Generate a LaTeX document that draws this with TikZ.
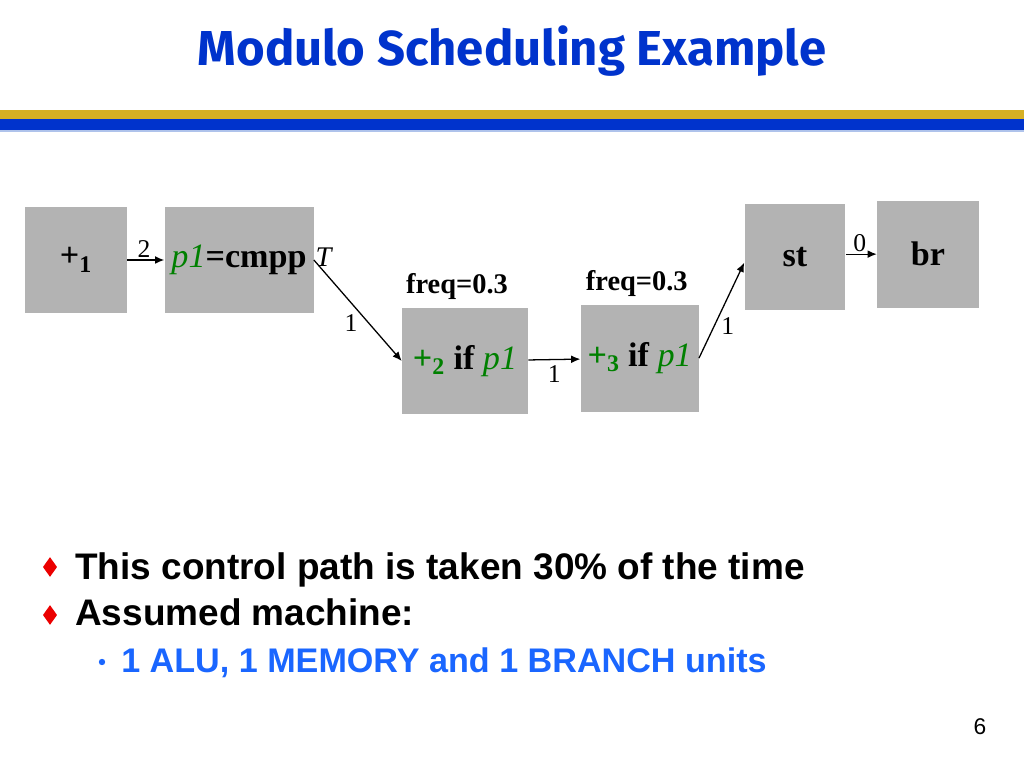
\documentclass[tikz,border=0pt]{standalone}
\usepackage{fontspec}
\setmainfont{Liberation Serif}
\setsansfont{Liberation Sans}
\newfontfamily\titlefont{Fira Sans}
\usepackage{xcolor}
\usepackage{tikz}
\usetikzlibrary{arrows.meta,positioning,shapes.geometric}
\definecolor{titleblue}{RGB}{0,51,204}
\definecolor{bandgold}{RGB}{214,176,36}
\definecolor{bandblue}{RGB}{0,51,204}
\definecolor{bandlight}{RGB}{175,195,235}
\definecolor{opgray}{RGB}{179,179,179}
\definecolor{predgreen}{RGB}{0,128,0}
\definecolor{bulletred}{RGB}{235,0,0}
\definecolor{subblue}{RGB}{26,102,255}
\tikzset{
  opbox/.style={rectangle, fill=opgray, inner sep=0pt, minimum height=75.2pt,
                font=\fontsize{24}{28}\selectfont\bfseries},
  arr/.style={-{Latex[length=6.5pt,width=5.5pt]}, line width=0.9pt, black},
  elbl/.style={font=\fontsize{18}{20}\selectfont, inner sep=1pt},
  freqlbl/.style={font=\fontsize{20}{22}\selectfont\bfseries, inner sep=1pt},
  reddiamond/.style={diamond, fill=bulletred, inner sep=0pt,
                     minimum width=10pt, minimum height=14pt},
  bulletmain/.style={anchor=base west, inner sep=0pt,
                     font=\sffamily\bfseries\fontsize{26}{30}\selectfont},
  bulletsub/.style={anchor=base west, inner sep=0pt, text=subblue,
                    font=\sffamily\bfseries\fontsize{24}{28}\selectfont},
}
\newcommand{\pone}{\textcolor{predgreen}{\normalfont\itshape p1}}

\begin{document}
\begin{tikzpicture}[x=0.703125pt, y=-0.703125pt]
  \useasboundingbox[fill=white] (0,0) rectangle (1024,768);
  % title and bands
  \node[font=\titlefont\bfseries\fontsize{34.5}{40}\selectfont, text=titleblue] (title) at (512,51) {Modulo Scheduling Example};
  \fill[bandgold] (0,110) rectangle (1024,119);
  \fill[bandblue] (0,119) rectangle (1024,130);
  \fill[bandlight] (0,130) rectangle (1024,132);

  % operations
  \node[opbox, minimum width=71.7pt] (plus1) at (76,260) {+\textsubscript{1}};
  \node[opbox, minimum width=104.8pt, right=26pt of plus1] (cmpp) {\pone=cmpp};
  \node[opbox, minimum width=88.6pt] (plus2) at (465,361) {\textcolor{predgreen}{+\textsubscript{2}} if \pone};
  \node[opbox, minimum width=83pt, right=36.6pt of plus2, yshift=2pt] (plus3) {\textcolor{predgreen}{+\textsubscript{3}} if \pone};
  \node[opbox, minimum width=71pt] (st) at (795,257) {st};
  \node[opbox, minimum width=71.7pt, right=21.8pt of st, yshift=2pt] (br) {br};

  \node[freqlbl, above=4pt of plus2, xshift=-5.6pt] (freq2) {freq=0.3};
  \node[freqlbl, above=4pt of plus3, xshift=-2pt] (freq3) {freq=0.3};
  \node[elbl, anchor=south west, font=\fontsize{20}{22}\selectfont\itshape] (tlbl) at (cmpp.north east |- 0,268) {T};

  % dependences
  \draw[arr] (plus1) -- node[elbl, above, pos=0.45] {2} (cmpp);
  \draw[arr] (cmpp.east) -- node[elbl, below left, pos=0.52] {1} (plus2.west);
  \draw[arr] (plus2) -- node[elbl, below=3pt, pos=0.5] {1} (plus3);
  \draw[arr] (plus3.east) -- node[elbl, below right, pos=0.45] {1} ([yshift=-4pt]st.west);
  \draw[arr] (st.east |- br.west) -- node[elbl, above, pos=0.45] {0} (br.west);

  % bullets
  \node[reddiamond] (d1) at (50,567) {};
  \node[bulletmain] (b1) at (75,579) {This control path is taken 30\% of the time};
  \node[reddiamond] (d2) at (50,615) {};
  \node[bulletmain] (b2) at (75,625) {Assumed machine:};
  \node[circle, fill=subblue, inner sep=0pt, minimum size=4.5pt] (d3) at (102,662) {};
  \node[bulletsub] (b3) at (121,672) {1 ALU, 1 MEMORY and 1 BRANCH units};

  \node[font=\sffamily\fontsize{16}{18}\selectfont] (pageno) at (980,727) {6};
\end{tikzpicture}
\end{document}
